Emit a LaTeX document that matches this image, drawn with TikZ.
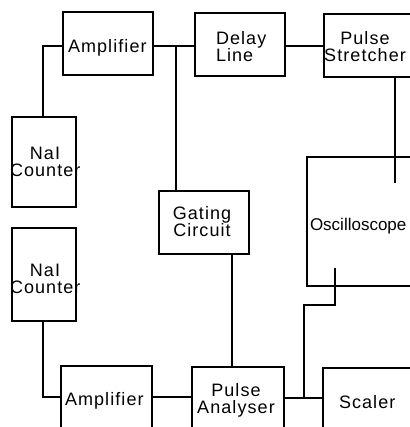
\documentclass[tikz,border=0pt]{standalone}
\usepackage{fontspec}
\newfontfamily\lettering[LetterSpace=6]{Liberation Sans}
\newfontfamily\letteringtight[LetterSpace=0]{Liberation Sans}
\begin{document}
\begin{tikzpicture}[x=1pt,y=-1pt,
  blk/.style={draw, rectangle, line width=1.2pt, inner sep=0pt, outer sep=0pt},
  lbl/.style={font=\lettering\fontsize{18}{17}\selectfont, inner sep=0pt, outer sep=0pt},
  wire/.style={line width=1.2pt}]
\useasboundingbox (0,0) rectangle (409,427);
% boxes
\node[blk, minimum width=90pt, minimum height=63pt] (amp1) at (108,43.5) {};
\node[blk, minimum width=90pt, minimum height=63pt] (delay) at (240,44.5) {};
\node[blk, minimum width=106pt, minimum height=63pt] (stretch) at (377,45.5) {};
\node[blk, minimum width=64pt, minimum height=90pt] (nai1) at (44,162) {};
\node[blk, minimum width=90pt, minimum height=63pt] (gate) at (204,222.5) {};
\node[blk, minimum width=123pt, minimum height=129pt] (osc) at (368.5,221.5) {};
\node[blk, minimum width=64pt, minimum height=93pt] (nai2) at (44,274.5) {};
\node[blk, minimum width=91pt, minimum height=74pt] (amp2) at (106.5,403) {};
\node[blk, minimum width=92pt, minimum height=73pt] (anal) at (238,403.5) {};
\node[blk, minimum width=107pt, minimum height=72pt] (scal) at (376.5,404) {};
% labels
\node[lbl, anchor=base west] (tamp1) at (68,53) {Amplifier};
\node[lbl, anchor=base west, text width=60pt, align=left] (tdelay) at (216,45) {Delay\\Line};
\node[lbl, anchor=base, text width=90pt, align=center] (tstretch) at (365,45) {Pulse\\Stretcher};
\node[lbl, anchor=base, text width=70pt, align=center] (tnai1) at (45,160) {NaI\\Counter};
\node[lbl, anchor=base, text width=80pt, align=center] (tgate) at (202,219) {Gating\\Circuit};
\node[lbl, anchor=base west, font=\letteringtight\fontsize{17}{17}\selectfont] (tosc) at (310,230) {Oscilloscope};
\node[lbl, anchor=base, text width=70pt, align=center] (tnai2) at (45,276) {NaI\\Counter};
\node[lbl, anchor=base west] (tamp2) at (65,405) {Amplifier};
\node[lbl, anchor=base, text width=90pt, align=center] (tanal) at (236,396) {Pulse\\Analyser};
\node[lbl, anchor=base west] (tscal) at (339,408) {Scaler};
% junction and end coordinates
\coordinate (j1) at (176,46);
\coordinate (e1) at (395,183);
\coordinate (j2) at (232,300);
\coordinate (j3) at (43,397);
\coordinate (j4) at (304,398);
\coordinate (bend) at (335,305);
\coordinate (e2) at (335,268);
% connectors
\draw[wire] (amp1.west |- j1) -| (nai1.north -| j3);
\draw[wire] (amp1.east |- j1) -- (delay.west |- j1);
\draw[wire] (j1) -- (j1 |- gate.north);
\draw[wire] (delay.east |- j1) -- (stretch.west |- j1);
\draw[wire] (stretch.south -| e1) -- (e1);
\draw[wire] (gate.south -| j2) -- (anal.north -| j2);
\draw[wire] (nai2.south -| j3) -- (j3) -- (amp2.west |- j3);
\draw[wire] (amp2.east |- j3) -- (anal.west |- j3);
\draw[wire] (anal.east |- j4) -- (scal.west |- j4);
\draw[wire] (j4) |- (bend) -- (e2);
\end{tikzpicture}
\end{document}
